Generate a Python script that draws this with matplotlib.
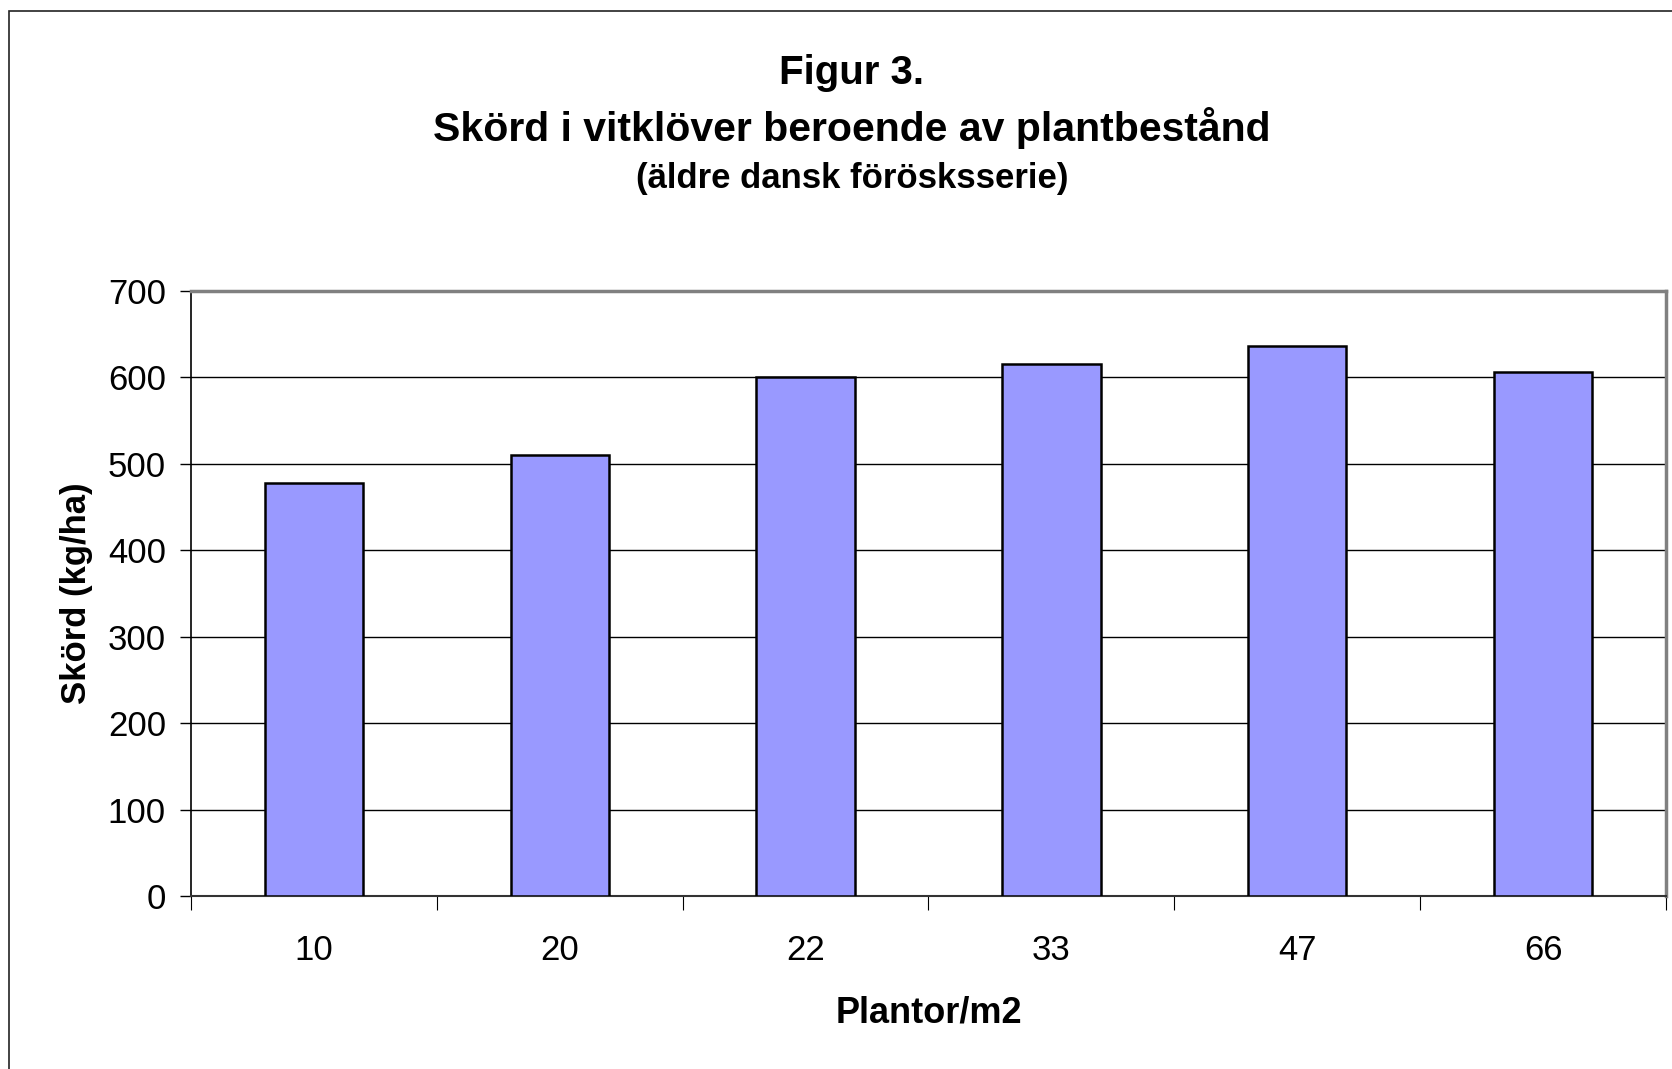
import matplotlib.pyplot as plt
import numpy as np
from matplotlib.patches import Rectangle

plt.rcParams['font.family'] = ['Liberation Sans', 'DejaVu Sans']

# data
plantor = ['10', '20', '22', '33', '47', '66']
skord = [478, 510, 600, 616, 636, 606]
y_ticks = [0, 100, 200, 300, 400, 500, 600, 700]

fig = plt.figure(figsize=(16.72, 10.69), dpi=100)

# outer chart frame (runs off the right and bottom edge like the screenshot)
fig.patches.append(Rectangle((8.5 / 1672, -0.05), 1.2, 1 - 11 / 1069 + 0.05,
                             transform=fig.transFigure, fill=False,
                             edgecolor='#222222', linewidth=1.2))

ax = fig.add_axes([191 / 1672, 1 - 896 / 1069, (1666 - 191) / 1672, (896 - 291) / 1069])

x = np.arange(len(plantor))
ax.bar(x, skord, width=0.4, color='#9999FF', edgecolor='black', linewidth=1.8, zorder=3)

ax.set_xlim(-0.5, len(plantor) - 0.5)
ax.set_ylim(0, 700)
ax.set_yticks(y_ticks)
ax.yaxis.grid(True, color='black', linewidth=1.0, zorder=0)
ax.set_axisbelow(True)

# category labels between the boundary ticks
ax.set_xticks(np.arange(len(plantor) + 1) - 0.5)
ax.set_xticklabels([])
ax.set_xticks(x, minor=True)
ax.set_xticklabels(plantor, minor=True)
ax.tick_params(axis='x', which='major', length=10, width=0.8, direction='out')
ax.tick_params(axis='x', which='minor', length=0, pad=27, labelsize=25)
ax.tick_params(axis='y', length=8, width=1.0, direction='out', pad=10, labelsize=25)

for side in ['top', 'right']:
    ax.spines[side].set_color('#808080')
    ax.spines[side].set_linewidth(2.5)
ax.spines['left'].set_linewidth(1.2)
ax.spines['bottom'].set_linewidth(1.5)
ax.spines['bottom'].set_color('#333333')

ax.set_ylabel('Skörd (kg/ha)', fontsize=25, fontweight='bold', labelpad=11)
ax.set_xlabel('Plantor/m2', fontsize=26, fontweight='bold', labelpad=21)

fig.text(0.5095, 1 - 73 / 1069, 'Figur 3.', ha='center', va='center',
         fontsize=29, fontweight='bold')
fig.text(0.5095, 1 - 128 / 1069, 'Skörd i vitklöver beroende av plantbestånd',
         ha='center', va='center', fontsize=29.5, fontweight='bold')
fig.text(0.5095, 1 - 179 / 1069, '(äldre dansk förösksserie)', ha='center',
         va='center', fontsize=25, fontweight='bold')

fig.savefig('out.png', dpi=100)
